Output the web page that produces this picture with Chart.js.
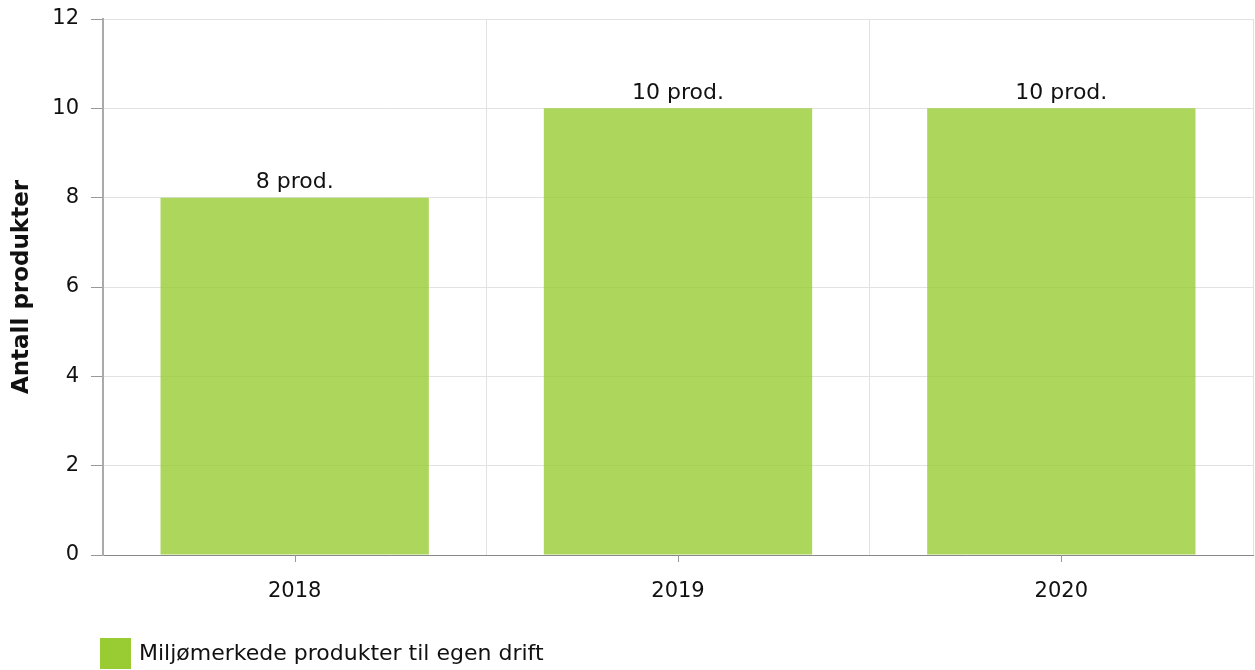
<!DOCTYPE html>
<html>
<head>
<meta charset="utf-8">
<script src="https://cdn.jsdelivr.net/npm/chart.js@4"></script>
<style>
  body { margin: 0; background: #fff; }
  #wrap { width: 1255px; height: 670px; }
</style>
</head>
<body>
<div id="wrap"><canvas id="productChart" width="1255" height="670"></canvas></div>
<script>
const years = ['2018', '2019', '2020'];
const products = [8, 10, 10];
const seriesName = 'Miljømerkede produkter til egen drift';
const yTitle = 'Antall produkter';
const valueSuffix = ' prod.';

const FONT = 'DejaVu Sans, Verdana, sans-serif';

// tick marks under categories, value labels and the legend
const extrasPlugin = {
  id: 'extras',
  afterDraw(chart) {
    const ctx = chart.ctx;
    const xs = chart.scales.x;
    const area = chart.chartArea;
    ctx.save();
    ctx.strokeStyle = '#999';
    ctx.lineWidth = 1;
    years.forEach((y, i) => {
      const px = Math.round(xs.getPixelForValue(i)) + 0.5;
      ctx.beginPath();
      ctx.moveTo(px, area.bottom);
      ctx.lineTo(px, area.bottom + 7);
      ctx.stroke();
    });

    ctx.fillStyle = '#111';
    ctx.font = '22px ' + FONT;
    ctx.textAlign = 'center';
    ctx.textBaseline = 'bottom';
    const meta = chart.getDatasetMeta(0);
    meta.data.forEach((bar, i) => {
      ctx.fillText(products[i] + valueSuffix, bar.x, bar.y - 4);
    });

    // legend
    const lx = area.left - 3;
    const ly = 638;
    ctx.fillStyle = '#99cc33';
    ctx.fillRect(lx, ly, 31, 31);
    ctx.fillStyle = '#111';
    ctx.textAlign = 'left';
    ctx.textBaseline = 'middle';
    ctx.fillText(seriesName, lx + 39, ly + 16);
    ctx.restore();
  }
};

const ctx = document.getElementById('productChart').getContext('2d');
new Chart(ctx, {
  type: 'bar',
  data: {
    labels: years,
    datasets: [{
      label: seriesName,
      data: products,
      backgroundColor: 'rgba(153, 204, 51, 0.8)',
      categoryPercentage: 0.7,
      barPercentage: 1.0
    }]
  },
  options: {
    responsive: false,
    animation: false,
    layout: { padding: { top: 19, right: 2, left: 0, bottom: 65 } },
    plugins: {
      legend: { display: false },
      tooltip: { enabled: false }
    },
    scales: {
      x: {
        afterFit: (scale) => { scale.height = 50; },
        grid: { color: '#e2e2e2', drawTicks: false, offset: true },
        border: { color: '#888', width: 1 },
        ticks: { color: '#111', font: { family: FONT, size: 21 }, padding: 24 }
      },
      y: {
        min: 0,
        max: 12,
        afterFit: (scale) => {
          scale.width = 103;
          scale.paddingTop = 0;
          scale.paddingBottom = 0;
        },
        ticks: { stepSize: 2, color: '#111', font: { family: FONT, size: 21 }, padding: 12 },
        grid: { color: '#e2e2e2', tickColor: '#999', tickLength: 12 },
        border: { color: '#aaa', width: 2 },
        title: {
          display: true,
          text: yTitle,
          color: '#111',
          font: { family: FONT, size: 23, weight: 'bold' },
          padding: { top: 8, bottom: 0 }
        }
      }
    }
  },
  plugins: [extrasPlugin]
});
</script>
</body>
</html>
